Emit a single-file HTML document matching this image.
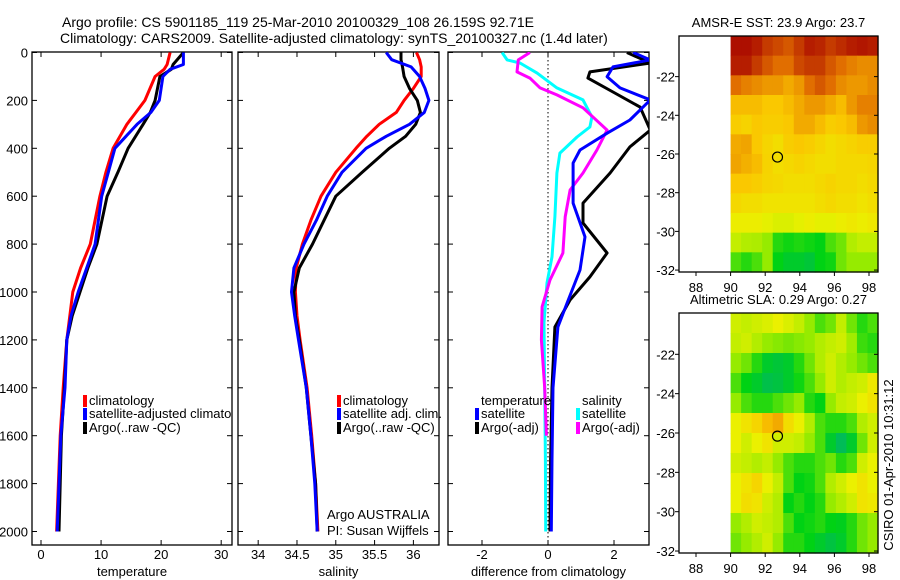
<!DOCTYPE html>
<html><head><meta charset="utf-8">
<style>
body{margin:0;background:#fff;}
svg{display:block;font-family:"Liberation Sans",sans-serif;}
</style></head>
<body>
<svg id="fig" width="900" height="580" viewBox="0 0 900 580">
<text x="62" y="27" font-size="14">Argo profile: CS 5901185_119 25-Mar-2010 20100329_108 26.159S 92.71E</text>
<text x="60" y="43" font-size="14">Climatology: CARS2009. Satellite-adjusted climatology: synTS_20100327.nc (1.4d later)</text>
<text transform="translate(893,465) rotate(-90)" font-size="13" text-anchor="middle">CSIRO 01-Apr-2010 10:31:12</text>
<g id="g"></g>
</svg>
<script>
// ---- data ----
const tDepth=[0,50,70,100,200,250,300,400,500,600,800,900,1000,1100,1200,1400,1600,1800,2000];
const tArgo=[23.7,22,21.7,19.8,19,18.2,17,14.5,12.8,11,9.3,7.8,6.5,5.2,4.3,3.9,3.4,3.2,3.0];
const tSat=[23.7,23.7,21.5,20.3,19.7,18.3,16,12.3,11.2,10.1,9,7.6,6.2,5,4.3,4,3.3,3,2.7];
const tClim=[21.5,21,20.5,19,17.3,15.8,14.3,12,10.8,9.8,8.2,6.6,5.3,4.8,4.3,3.7,3.2,2.9,2.6];
const sDepth=[0,30,60,100,150,200,250,300,350,400,500,600,700,800,900,1000,1100,1200,1400,1600,1800,2000];
const sClim=[36.04,36.08,36.1,36.1,36.0,35.88,35.78,35.56,35.4,35.26,35.0,34.81,34.68,34.57,34.49,34.48,34.5,34.54,34.63,34.69,34.74,34.77];
const sSat=[35.65,35.72,35.97,36.08,36.15,36.2,36.14,35.95,35.65,35.39,35.08,34.89,34.75,34.59,34.46,34.43,34.47,34.52,34.62,34.68,34.73,34.76];
const sArgo=[35.84,35.84,35.86,35.88,35.95,36.05,36.09,36.03,35.9,35.69,35.34,35.0,34.85,34.7,34.53,34.46,34.48,34.53,34.62,34.68,34.74,34.76];
const dCyanDepth=[0,31,44,86,148,198,269,311,353,420,503,686,853,962,1129,1400,1700,2000];
const dCyan=[-1.39,-1.24,-0.85,-0.33,0.27,1.06,1.33,1.27,0.88,0.36,0.27,0.21,0.12,-0.03,-0.12,-0.1,-0.08,-0.07];
const dMagDepth=[0,31,81,107,148,177,231,324,407,503,574,686,837,950,1062,1200,1400,1600];
const dMag=[-0.55,-0.9,-0.94,-0.55,-0.24,0.27,1.06,1.79,1.48,1.06,0.67,0.52,0.45,0.06,-0.18,-0.2,-0.1,-0.05];
const dBlueDepth=[0,31,60,101,148,198,282,337,407,462,629,770,908,1046,1146,1400,1700,2000];
const dBlue=[2.58,3.1,1.97,1.79,2.18,3.1,2.48,1.79,0.97,0.76,0.76,1.12,0.97,0.58,0.3,0.15,0.12,0.1];
const dBlackDepth=[0,44,81,107,165,228,324,394,503,629,712,837,937,1033,1146,1400,1700,2000];
const dBlack=[2.39,3.1,1.27,1.21,1.97,2.79,3.1,2.48,1.88,1.06,1.06,1.79,1.27,0.67,0.21,0.12,0.08,0.06];
const depthTicks=[0,200,400,600,800,1000,1200,1400,1600,1800,2000];
const tTicks=[0,10,20,30];
const sTicks=[34,34.5,35,35.5,36];
const dTicks=[-2,0,2];
const latTicks=[-22,-24,-26,-28,-30,-32];
const lonTicks=[88,90,92,94,96,98];
const sstGrid=[
[98,98,96,92,90,88,92,96,95,92,94,96,97,96],
[96,96,92,88,85,85,90,92,92,88,85,82,80,80],
[85,82,80,78,78,75,78,85,88,85,80,78,78,80],
[72,72,72,70,70,72,75,78,78,75,72,78,82,82],
[68,66,70,68,68,70,75,75,72,68,70,72,78,80],
[75,76,70,65,62,68,70,68,65,62,64,66,68,68],
[76,74,72,66,62,64,66,64,62,62,64,64,64,65],
[70,70,68,65,64,62,62,62,64,66,64,64,62,64],
[64,62,62,60,60,60,60,60,62,64,62,62,60,62],
[56,56,56,54,52,52,54,56,54,54,56,58,56,58],
[48,45,44,40,25,22,24,22,20,30,35,45,48,48],
[30,25,30,40,20,15,15,12,20,22,35,40,40,40]];
const slaGrid=[
[50,48,50,52,55,52,48,40,30,35,48,35,25,30],
[48,50,45,40,38,36,38,40,45,48,50,42,28,25],
[40,35,25,15,12,15,25,35,45,50,45,40,35,30],
[30,20,15,8,10,15,22,30,40,50,45,48,50,58],
[40,30,25,25,30,35,40,25,20,40,48,50,55,60],
[55,60,65,72,75,62,55,45,30,25,25,30,45,50],
[55,50,55,60,50,50,48,40,30,15,5,15,35,50],
[50,48,45,48,40,30,25,25,30,35,25,30,50,55],
[55,60,65,55,48,30,20,22,30,45,50,55,60,55],
[55,62,60,50,45,20,25,20,25,40,45,50,60,58],
[40,45,50,48,45,30,20,22,25,20,18,25,35,40],
[35,40,45,50,40,25,25,20,15,10,15,25,35,40]];
const argoLon=92.71, argoLat=-26.159;

const NS='http://www.w3.org/2000/svg';
const G=document.getElementById('g');
function el(t,a,p){const e=document.createElementNS(NS,t);for(const k in a)e.setAttribute(k,a[k]);(p||G).appendChild(e);return e;}
function txt(x,y,s,a,p){const e=el('text',Object.assign({x:x,y:y,'font-size':13},a||{}),p);e.textContent=s;return e;}

// axes
const pTop=52,pBot=545;
const yD=d=>52.5+0.2395*d;
const panels=[
 {l:32,r:232,x0:-1.5,x1:31.8,ticks:tTicks,lab:'temperature',name:'temperature'},
 {l:238,r:439,x0:33.74,x1:36.33,ticks:sTicks,lab:'salinity',name:'salinity'},
 {l:448,r:649,x0:-3.03,x1:3.06,ticks:dTicks,lab:'difference from climatology',name:'difference'}];
panels.forEach((p,i)=>{
  p.sx=v=>p.l+(v-p.x0)/(p.x1-p.x0)*(p.r-p.l);
  const g=el('g',{});
  
  
  const cp=el('clipPath',{id:'c'+i},g);
  el('rect',{x:p.l,y:pTop,width:p.r-p.l,height:pBot-pTop},cp);
  el('rect',{x:p.l,y:pTop,width:p.r-p.l,height:pBot-pTop,fill:'none',stroke:'#000','stroke-width':1.3},g);
  p.ticks.forEach(t=>{const x=p.sx(t);
    el('line',{x1:x,x2:x,y1:pBot,y2:pBot-5,stroke:'#000'},g);el('line',{x1:x,x2:x,y1:pTop,y2:pTop+5,stroke:'#000'},g);
    const lt=txt(x,559,String(t),{'text-anchor':'middle'},g);
    
    });
  depthTicks.forEach(d=>{const y=yD(d);
    el('line',{x1:p.l,x2:p.l+5,y1:y,y2:y,stroke:'#000'},g);el('line',{x1:p.r,x2:p.r-5,y1:y,y2:y,stroke:'#000'},g);
    if(i==0){const lt=txt(28,y+5,String(d),{'text-anchor':'end'},g);
      
      }});
  const xl=txt((p.l+p.r)/2,576,p.lab,{'text-anchor':'middle'},g);
  
  
});
el('line',{x1:panels[2].sx(0),x2:panels[2].sx(0),y1:pTop,y2:pBot,stroke:'#000','stroke-dasharray':'1.5,2.5'});

function line(pi,xs,ds,col,name){
  const p=panels[pi];
  const pts=xs.map((v,k)=>p.sx(v).toFixed(1)+','+yD(ds[k]).toFixed(1)).join(' ');
  const e=el('polyline',{points:pts,fill:'none',stroke:col,'stroke-width':3,'stroke-linejoin':'round','clip-path':'url(#c'+pi+')'});
  
  
}
line(0,tClim,tDepth,'#f00','temp-climatology-line');
line(0,tArgo,tDepth,'#000','temp-argo-line');
line(0,tSat,tDepth,'#00f','temp-satellite-line');
line(1,sClim,sDepth,'#f00','sal-climatology-line');
line(1,sArgo,sDepth,'#000','sal-argo-line');
line(1,sSat,sDepth,'#00f','sal-satellite-line');
line(2,dCyan,dCyanDepth,'#0ff','diff-sal-satellite-line');
line(2,dMag,dMagDepth,'#f0f','diff-sal-argo-line');
line(2,dBlack,dBlackDepth,'#000','diff-temp-argo-line');
line(2,dBlue,dBlueDepth,'#00f','diff-temp-satellite-line');

// legends
function leg(x,y,col,s,clip){
  const g=el('g',{});
  
  
  if(col)el('rect',{x:x,y:y-10,width:4,height:12,fill:col},g);
  const t=txt(x+6,y,s,{},g);if(clip)t.setAttribute('clip-path',clip);
}
leg(83,405,'#f00','climatology');leg(83,418,'#00f','satellite-adjusted climatology','url(#c0)');leg(83,432,'#000','Argo(..raw -QC)');
leg(337,405,'#f00','climatology');leg(337,418,'#00f','satellite adj. clim.');leg(337,432,'#000','Argo(..raw -QC)');
leg(475,405,null,'temperature');leg(475,418,'#00f','satellite');leg(475,432,'#000','Argo(-adj)');
leg(576,405,null,'salinity');leg(576,418,'#0ff','satellite');leg(576,432,'#f0f','Argo(-adj)');
const a1=txt(327,519,'Argo AUSTRALIA');


const a2=txt(327,535,'PI: Susan Wijffels');



// maps
const stops=[[0,[0,180,110]],[0.2,[0,210,20]],[0.4,[150,235,0]],[0.55,[235,240,0]],[0.7,[250,200,0]],[0.85,[225,110,0]],[1,[165,0,0]]];
function cmap(v){v=Math.max(0,Math.min(1,v));for(let i=1;i<stops.length;i++){if(v<=stops[i][0]){const a=stops[i-1],b=stops[i],f=(v-a[0])/(b[0]-a[0]);return 'rgb('+a[1].map((c,k)=>Math.round(c+(b[1][k]-c)*f)).join(',')+')';}}return 'rgb(165,0,0)';}
function map(mt,mb,grid,title,name){
  const L=679,R=878;
  const sx=lon=>696+(lon-88)*17.3;
  const lat0=-19.9,lat1=-32.1;
  const sy=lat=>mt+(lat0-lat)/(lat0-lat1)*(mb-mt);
  const g=el('g',{});
  
  
  const rows=grid.length,cols=grid[0].length;
  const x0=sx(90),cw=(R-x0)/cols,ch=(mb-mt)/rows;
  grid.forEach((row,r)=>row.forEach((v,c)=>{
    const cell=el('rect',{x:(x0+c*cw).toFixed(2),y:(mt+r*ch).toFixed(2),width:(cw+0.6).toFixed(2),height:(ch+0.6).toFixed(2),fill:cmap(v/100)},g);
    
    
  }));
  el('rect',{x:L,y:mt,width:R-L,height:mb-mt,fill:'none',stroke:'#000','stroke-width':1.3},g);
  latTicks.forEach(l=>{const y=sy(l);el('line',{x1:L,x2:L-4,y1:y,y2:y,stroke:'#000'},g);el('line',{x1:R,x2:R-4,y1:y,y2:y,stroke:'#000'},g);
    const t=txt(L-4,y+5,String(l),{'text-anchor':'end'},g);
    
    });
  lonTicks.forEach(l=>{const x=sx(l);el('line',{x1:x,x2:x,y1:mb,y2:mb+4,stroke:'#000'},g);
    const t=txt(x,mb+20,String(l),{'text-anchor':'middle'},g);
    
    });
  const tt=txt((L+R)/2,mt-9,title,{'text-anchor':'middle'},g);
  
  
  const m=el('ellipse',{cx:sx(argoLon),cy:sy(argoLat),rx:5,ry:5,fill:'none',stroke:'#000','stroke-width':1.2},g);
  
  
}
map(36,272,sstGrid,'AMSR-E SST: 23.9 Argo: 23.7','sst-map');
map(313,553,slaGrid,'Altimetric SLA: 0.29 Argo: 0.27','sla-map');
</script>
</body></html>
